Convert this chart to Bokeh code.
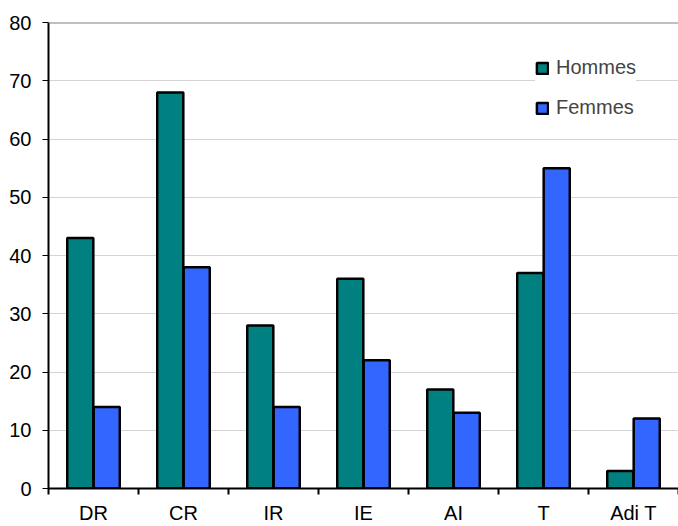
from bokeh.plotting import figure
from bokeh.models import ColumnDataSource, FixedTicker, Span, Legend, LegendItem
from bokeh.embed import file_html
from bokeh.resources import INLINE

categories = ["DR", "CR", "IR", "IE", "AI", "T", "Adi T"]
hommes = [43, 68, 28, 36, 17, 37, 3]
femmes = [14, 38, 14, 22, 13, 55, 12]
y_ticks = [0, 10, 20, 30, 40, 50, 60, 70, 80]
series_names = ["Hommes", "Femmes"]
colors = ["#008080", "#3366FF"]

n = len(categories)
centers = [i + 0.5 for i in range(n)]
bar_w = 0.29
off = 0.147

src = ColumnDataSource(dict(
    xh=[c - off for c in centers],
    xf=[c + off for c in centers],
    hommes=hommes,
    femmes=femmes,
))

FONT = "Liberation Sans"

p = figure(width=678, height=526, output_backend="svg", toolbar_location=None,
           x_range=(0, n), y_range=(y_ticks[0], y_ticks[-1]),
           min_border_left=48, min_border_right=0, min_border_top=22, min_border_bottom=37)
p.outline_line_color = None
p.background_fill_color = "white"
p.border_fill_color = "white"

rh = p.vbar(x="xh", top="hommes", width=bar_w, source=src,
            fill_color=colors[0], line_color="black", line_width=2.5)
rf = p.vbar(x="xf", top="femmes", width=bar_w, source=src,
            fill_color=colors[1], line_color="black", line_width=2.5)

# x axis: labels at centers, tick marks at category boundaries
p.xaxis.ticker = FixedTicker(ticks=centers, minor_ticks=list(range(n + 1)))
p.xaxis.major_label_overrides = {c: lab for c, lab in zip(centers, categories)}
p.xaxis.major_tick_out = 0
p.xaxis.major_tick_in = 0
p.xaxis.minor_tick_out = 6
p.xaxis.minor_tick_in = 0
p.xaxis.minor_tick_line_color = "black"
p.xaxis.minor_tick_line_width = 2
p.xaxis.axis_line_color = "black"
p.xaxis.axis_line_width = 2
p.xaxis.major_label_standoff = 7
p.xaxis.major_label_text_font = FONT
p.xaxis.major_label_text_font_size = "20px"
p.xaxis.major_label_text_color = "black"

p.yaxis.ticker = FixedTicker(ticks=y_ticks)
p.yaxis.major_tick_out = 6
p.yaxis.major_tick_in = 0
p.yaxis.minor_tick_line_color = None
p.yaxis.major_tick_line_color = "black"
p.yaxis.major_tick_line_width = 1
p.yaxis.axis_line_color = "black"
p.yaxis.axis_line_width = 2
p.yaxis.major_label_standoff = 11
p.yaxis.major_label_text_font = FONT
p.yaxis.major_label_text_font_size = "20px"
p.yaxis.major_label_text_color = "black"

p.xgrid.grid_line_color = None
p.ygrid.grid_line_color = "#D4D4D4"
p.ygrid.grid_line_width = 1

p.add_layout(Span(location=y_ticks[-1], dimension="width", line_color="#808080", line_width=2))

legend = Legend(items=[LegendItem(label=series_names[0], renderers=[rh]),
                       LegendItem(label=series_names[1], renderers=[rf])],
                location=(487, 369), orientation="vertical")
legend.padding = 15
legend.margin = 0
legend.spacing = 17
legend.border_line_color = None
legend.background_fill_color = "white"
legend.background_fill_alpha = 1
legend.glyph_width = 14
legend.glyph_height = 14
legend.label_standoff = 7
legend.label_text_font = FONT
legend.label_text_font_size = "20px"
legend.label_height = 20
p.add_layout(legend, "center")

open("out.html", "w").write(file_html(p, INLINE))
